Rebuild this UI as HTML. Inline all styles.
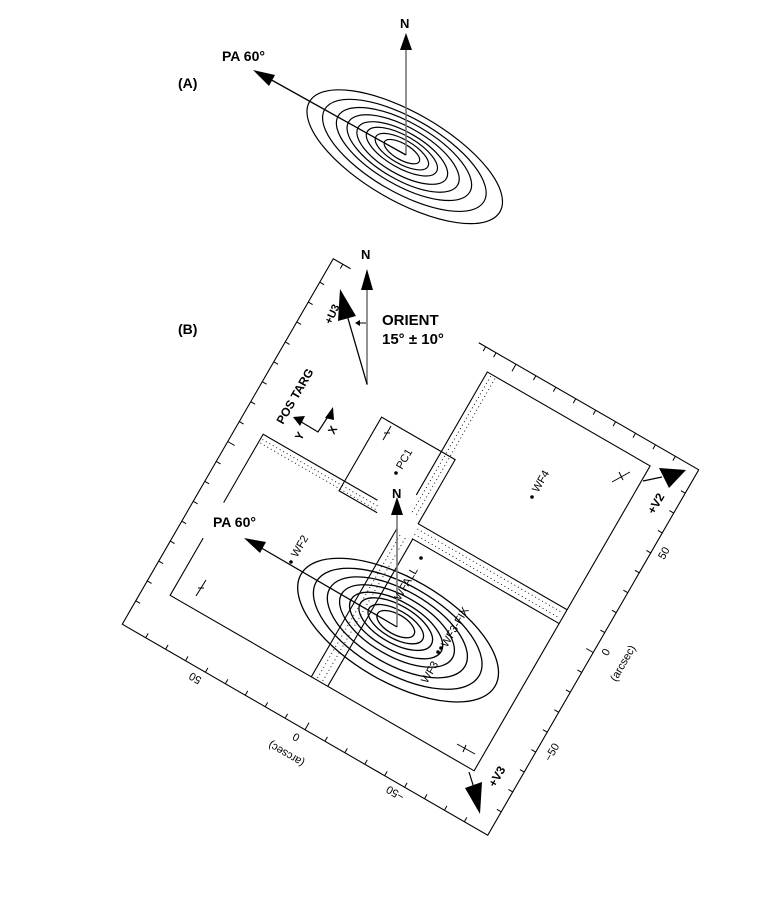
<!DOCTYPE html>
<html><head><meta charset="utf-8"><style>
html,body{margin:0;padding:0;background:#fff;}
svg{display:block;font-family:"Liberation Sans",sans-serif;}
.b{font-weight:bold;}
</style></head><body>
<svg width="782" height="900" viewBox="0 0 782 900" xmlns="http://www.w3.org/2000/svg">
<!-- Panel A -->
<text x="178" y="88" class="b" font-size="14">(A)</text>
<text x="222" y="61" class="b" font-size="14">PA 60°</text>
<text x="400" y="28" class="b" font-size="13">N</text>
<g fill="none" stroke="#000" stroke-width="1.2" transform="translate(404,154) rotate(30)">
<ellipse cx="2" cy="2" rx="110" ry="44"/>
<ellipse cx="1" cy="1" rx="92" ry="37"/>
<ellipse cx="0" cy="0" rx="76" ry="31"/>
<ellipse cx="-1" cy="0" rx="63" ry="26"/>
<ellipse cx="-2" cy="0" rx="51" ry="21"/>
<ellipse cx="-3" cy="-1" rx="40" ry="16"/>
<ellipse cx="-3" cy="-1" rx="30" ry="12"/>
<ellipse cx="-3" cy="-1" rx="20" ry="8"/>
</g>
<line x1="406" y1="155" x2="406" y2="48" stroke="#777" stroke-width="1.6"/>
<polygon points="406,33 400,50 412,50" fill="#000"/>
<line x1="406" y1="155" x2="268" y2="78" stroke="#000" stroke-width="1.3"/>
<polygon points="253,70 275,75 269,86" fill="#000"/>

<!-- Panel B -->
<text x="178" y="334" class="b" font-size="14">(B)</text>
<g transform="translate(410.5,547) rotate(30)" fill="none" stroke="#000" stroke-width="1.1">
<!-- outer frame -->
<polyline points="-191,-211 -211,-211 -211,211 211,211 211,-211 -43,-211"/>
<!-- ticks -->
<g stroke-width="1">
<path d="M211,-184h-5M211,-161h-5M211,-138h-5M211,-115h-5M211,-92h-5M211,-69h-5M211,-46h-5M211,-23h-5M211,0h-8M211,23h-5M211,46h-5M211,69h-5M211,92h-5M211,115h-5M211,138h-5M211,161h-5M211,184h-5"/>
<path d="M-184,211v-5M-161,211v-5M-138,211v-5M-115,211v-5M-92,211v-5M-69,211v-5M-46,211v-5M-23,211v-5M0,211v-8M23,211v-5M46,211v-5M69,211v-5M92,211v-5M115,211v-5M138,211v-5M161,211v-5M184,211v-5"/>
<path d="M-211,-184h5M-211,-161h5M-211,-138h5M-211,-115h5M-211,-92h5M-211,-69h5M-211,-46h5M-211,-23h5M-211,0h8M-211,23h5M-211,46h5M-211,69h5M-211,92h5M-211,115h5M-211,138h5M-211,161h5M-211,184h5"/>
<path d="M-35,-211v5M-23,-211v5M0,-211v8M23,-211v5M46,-211v5M69,-211v5M92,-211v5M115,-211v5M138,-211v5M161,-211v5M184,-211v5M-200,-211v5"/>
</g>
<!-- chips solid -->
<polyline points="-184,55 -184,-24 -52,-24"/>
<polyline points="-184,96 -184,162 167,162 167,-190 -21,-190 -21,-48"/>
<polyline points="-46,-13 -90,-13 -90,-98 -5,-98 -5,-24 167,-24"/>
<line x1="-3" y1="-8" x2="167" y2="-8"/>
<polyline points="-21,-10 -21,162"/>
<polyline points="-2,-8 -2,162"/>
<!-- dotted strips -->
<g stroke-dasharray="1,3" stroke-width="0.9">
<line x1="-182" y1="-19" x2="-48" y2="-19"/>
<line x1="-182" y1="-15" x2="-48" y2="-15"/>
<line x1="-16" y1="-188" x2="-16" y2="-30"/>
<line x1="-11" y1="-188" x2="-11" y2="-30"/>
<line x1="-3" y1="-19" x2="165" y2="-19"/>
<line x1="-3" y1="-13" x2="165" y2="-13"/>
<line x1="-15" y1="-5" x2="-15" y2="160"/>
<line x1="-9" y1="-5" x2="-9" y2="160"/>
</g>
</g>
<!-- small cross markers -->
<g stroke="#000" stroke-width="1">
<path d="M383,440 l8,-14 M384,433 h6"/>
<path d="M612,482 l18,-10 M619,472 l4,8"/>
<path d="M196,596 l10,-16 M198,588 h6"/>
<path d="M457,744 l18,10 M466,745 l-3,7"/>
</g>
<!-- galaxy B -->
<g fill="none" stroke="#000" stroke-width="1.3" transform="translate(397,626) rotate(30)">
<ellipse cx="3" cy="3" rx="112" ry="52"/>
<ellipse cx="2" cy="2" rx="94" ry="44"/>
<ellipse cx="1" cy="1" rx="78" ry="37"/>
<ellipse cx="0" cy="0" rx="64" ry="30"/>
<ellipse cx="-1" cy="0" rx="52" ry="24"/>
<ellipse cx="-2" cy="-1" rx="41" ry="19"/>
<ellipse cx="-2" cy="-1" rx="31" ry="14"/>
<ellipse cx="-2" cy="-1" rx="21" ry="10"/>
</g>
<line x1="397" y1="627" x2="397" y2="512" stroke="#777" stroke-width="1.6"/>
<polygon points="397,497 391,515 403,515" fill="#000"/>
<text x="392" y="498" class="b" font-size="13">N</text>
<line x1="397" y1="627" x2="258" y2="546" stroke="#000" stroke-width="1.3"/>
<polygon points="244,538 266,542 260,553" fill="#000"/>
<text x="213" y="527" class="b" font-size="14">PA 60°</text>
<!-- dots -->
<g fill="#000">
<circle cx="396" cy="473" r="1.8"/>
<circle cx="532" cy="497" r="1.8"/>
<circle cx="291" cy="562" r="1.8"/>
<circle cx="421" cy="558" r="1.8"/>
<circle cx="441" cy="648" r="1.8"/>
<circle cx="438" cy="652" r="1.8"/>
</g>
<g font-size="11">
<text transform="translate(402,470) rotate(-60)">PC1</text>
<text transform="translate(538,493) rotate(-60)">WF4</text>
<text transform="translate(297,558) rotate(-60)">WF2</text>
<text transform="translate(400,601) rotate(-60)">WFALL</text>
<text transform="translate(447,648) rotate(-60)">WF3-FIX</text>
<text transform="translate(427,684) rotate(-60)">WF3</text>
<text transform="translate(667,555) rotate(-60)" text-anchor="middle">50</text>
<text transform="translate(609,654) rotate(-60)" text-anchor="middle">0</text>
<text transform="translate(555,754) rotate(-60)" text-anchor="middle">−50</text>
<text transform="translate(626,665) rotate(-60)" text-anchor="middle">(arcsec)</text>
<text transform="translate(197,675) rotate(210)" text-anchor="middle">50</text>
<text transform="translate(298,734) rotate(210)" text-anchor="middle">0</text>
<text transform="translate(288,751) rotate(210)" text-anchor="middle">(arcsec)</text>
<text transform="translate(397,790) rotate(210)" text-anchor="middle">−50</text>
</g>
<!-- V2 / V3 -->
<line x1="643" y1="481" x2="662" y2="477" stroke="#000" stroke-width="1.2"/>
<polygon points="686,470 659,468 669,488" fill="#000"/>
<text transform="translate(654,515) rotate(-60)" class="b" font-size="12">+V2</text>
<line x1="469" y1="772" x2="474" y2="788" stroke="#000" stroke-width="1.2"/>
<polygon points="480,814 465,788 482,782" fill="#000"/>
<text transform="translate(495,788) rotate(-60)" class="b" font-size="12">+V3</text>
<!-- ORIENT block -->
<text x="361" y="259" class="b" font-size="13">N</text>
<line x1="367" y1="385" x2="367" y2="288" stroke="#777" stroke-width="1.6"/>
<polygon points="367,269 361,290 373,290" fill="#000"/>
<line x1="367" y1="384" x2="347" y2="315" stroke="#000" stroke-width="1.3"/>
<polygon points="340,289 338,321 356,316" fill="#000"/>
<line x1="366" y1="323" x2="356" y2="323" stroke="#000" stroke-width="1"/>
<polygon points="355,323 360,320 360,326" fill="#000"/>
<text transform="translate(331,325) rotate(-65)" class="b" font-size="11">+U3</text>
<text x="382" y="325" class="b" font-size="15">ORIENT</text>
<text x="382" y="344" class="b" font-size="15">15° ± 10°</text>
<!-- POS TARG -->
<text transform="translate(283,425) rotate(-60)" class="b" font-size="12">POS TARG</text>
<polyline points="331,412 318,432 298,420" fill="none" stroke="#000" stroke-width="1.2"/>
<polygon points="333,407 325,418 334,420" fill="#000"/>
<polygon points="293,417 305,416 300,426" fill="#000"/>
<text transform="translate(301,441) rotate(-60)" class="b" font-size="11">Y</text>
<text transform="translate(334,435) rotate(-60)" class="b" font-size="11">X</text>
</svg>
</body></html>
